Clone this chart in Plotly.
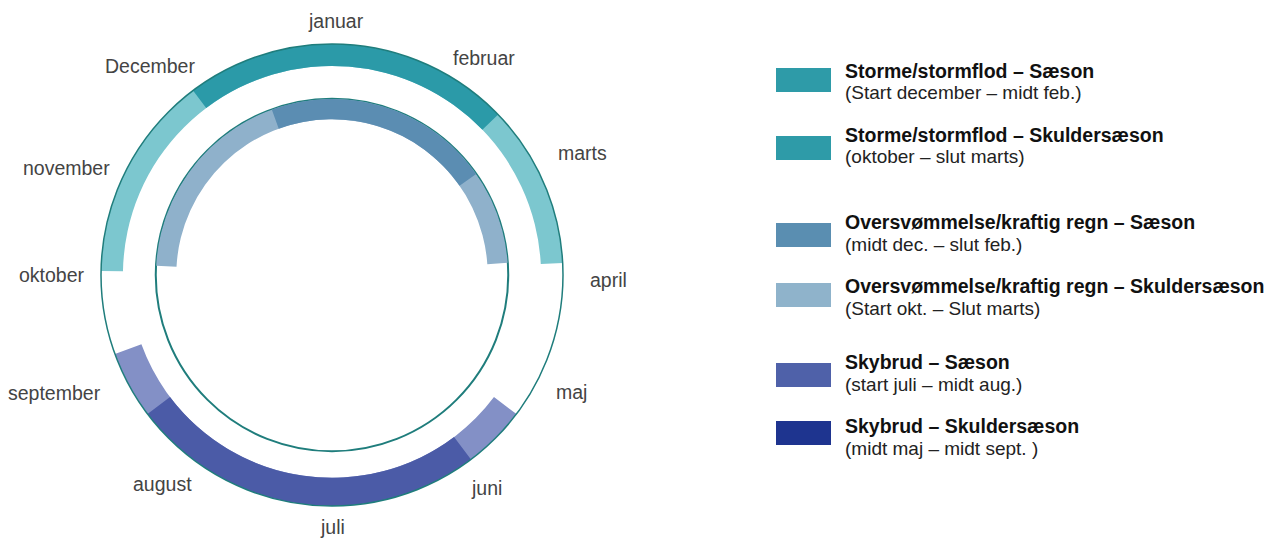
import math

import plotly.graph_objects as go

# Months around the wheel (januar at the top, clockwise)
months = ["januar", "februar", "marts", "april", "maj", "juni",
          "juli", "august", "september", "oktober", "november", "December"]

# Arcs: start / end angle in degrees (clockwise from januar)
arc_names = [
    "Storme/stormflod – Skuldersæson",
    "Storme/stormflod – Sæson",
    "Oversvømmelse/kraftig regn – Skuldersæson",
    "Oversvømmelse/kraftig regn – Sæson",
    "Skybrud – Skuldersæson",
    "Skybrud – Sæson",
]
arc_start = [271, 323, 273, 340, 127, 143]
arc_end = [87, 46, 86, 55, 250, 233]
arc_ring = ["outer", "outer", "inner", "inner", "sky", "sky"]
arc_colors = ["#7cc7cf", "#2b9aa8", "#8fb1cb", "#5b8db2", "#8390c6", "#4b5ba7"]

# Legend
legend_titles = [
    "Storme/stormflod – Sæson",
    "Storme/stormflod – Skuldersæson",
    "Oversvømmelse/kraftig regn – Sæson",
    "Oversvømmelse/kraftig regn – Skuldersæson",
    "Skybrud – Sæson",
    "Skybrud – Skuldersæson",
]
legend_subs = [
    "(Start december – midt feb.)",
    "(oktober – slut marts)",
    "(midt dec. – slut feb.)",
    "(Start okt. – Slut marts)",
    "(start juli – midt aug.)",
    "(midt maj – midt sept. )",
]
legend_colors = ["#2e9ba8", "#2e9ba8", "#5a8eb1", "#8fb3cb", "#4f61a9", "#1e348f"]

# ---- layout (pixels in the 1281x553 picture) ----
W, H = 1281, 553
PAGE = 8  # default body margin of the html page
CX, CY, R = 332, 275, 231

# month label placement (angle clockwise from top, distance from centre in px)
label_theta = [1, 35, 64, 91, 116, 144, 180, 219, 247, 270, 292, 319]
label_dist = [254, 265, 279, 277, 267, 263, 252, 269, 301, 280, 286, 277]

legend_swatch_y = [80, 148, 235, 295, 375, 433]
legend_title_y = [71, 135, 222, 286, 362, 426]

RING = {"outer": (0.905, 1.0), "sky": (0.878, 1.0), "inner": (0.674, 0.762)}
INNER_LINE = 0.763
LINE_COLOR = "#1f7d7c"


def px(x):
    return (x - PAGE) / W


def py(y):
    return 1 - (y - PAGE) / H


fig = go.Figure()

for name, s, e, ring, col in zip(arc_names, arc_start, arc_end, arc_ring, arc_colors):
    span = (e - s) % 360
    lo, hi = RING[ring]
    fig.add_trace(
        go.Barpolar(
            theta=[(s + span / 2) % 360],
            width=[span],
            base=[lo],
            r=[hi - lo],
            name=name,
            marker=dict(color=col, line=dict(width=0)),
            showlegend=False,
            hoverinfo="name",
        )
    )

fig.update_layout(
    width=W,
    height=H,
    margin=dict(l=0, r=0, t=0, b=0),
    paper_bgcolor="white",
    font=dict(family="Liberation Sans, Arial, sans-serif"),
    polar=dict(
        domain=dict(x=[px(CX - R), px(CX + R)], y=[py(CY + R), py(CY - R)]),
        bgcolor="white",
        radialaxis=dict(
            range=[0, 1],
            tickmode="array",
            tickvals=[INNER_LINE],
            showticklabels=False,
            ticks="",
            showline=False,
            showgrid=True,
            gridcolor=LINE_COLOR,
            gridwidth=1.5,
        ),
        angularaxis=dict(
            direction="clockwise",
            rotation=90,
            showticklabels=False,
            ticks="",
            showgrid=False,
            showline=True,
            linecolor=LINE_COLOR,
            linewidth=1.5,
        ),
    ),
)

# month names around the wheel
for m, th, d in zip(months, label_theta, label_dist):
    a = math.radians(th)
    fig.add_annotation(
        xref="paper", yref="paper",
        x=px(CX + d * math.sin(a)), y=py(CY - d * math.cos(a)),
        xanchor="center", yanchor="middle", showarrow=False,
        text=m, font=dict(size=19.5, color="#444444"),
    )

# hand-made legend on the right
for title, sub, col, sy, ty in zip(legend_titles, legend_subs, legend_colors,
                                    legend_swatch_y, legend_title_y):
    fig.add_shape(
        type="rect", xref="paper", yref="paper",
        x0=px(776), x1=px(831), y0=py(sy + 12), y1=py(sy - 12),
        fillcolor=col, line=dict(width=0),
    )
    fig.add_annotation(
        xref="paper", yref="paper", x=px(843), y=py(ty),
        xanchor="left", yanchor="middle", showarrow=False,
        text=f"<b>{title}</b>", font=dict(size=19.5, color="#111111"),
    )
    fig.add_annotation(
        xref="paper", yref="paper", x=px(843), y=py(ty + 22),
        xanchor="left", yanchor="middle", showarrow=False,
        text=sub, font=dict(size=19, color="#222222"),
    )

fig.write_html("out.html")
